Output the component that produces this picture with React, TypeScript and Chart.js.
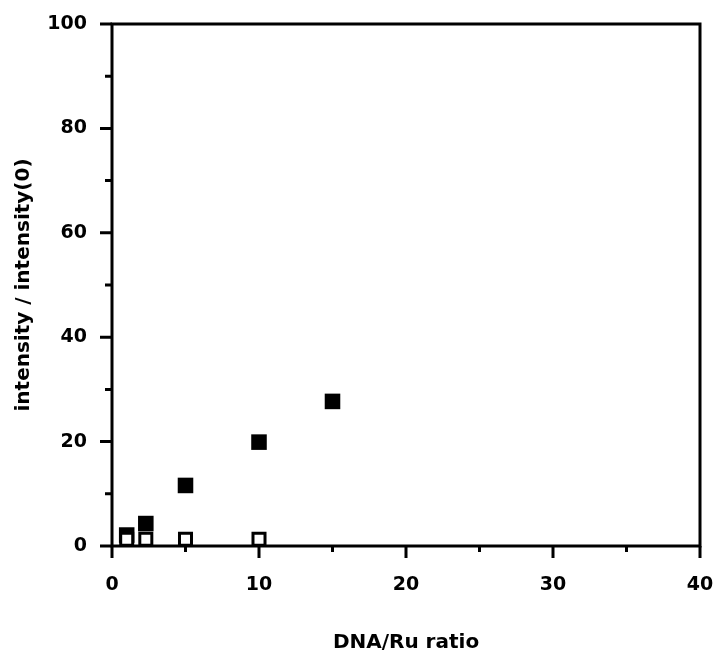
import React, { useEffect, useRef } from 'react';
import { Chart, registerables } from 'chart.js';

Chart.register(...registerables);

// Data
const ratioFilled = [1, 2.3, 5, 10, 15];
const intensityFilled = [2.1, 4.3, 11.6, 19.9, 27.7];
const ratioOpen = [1, 2.3, 5, 10];
const intensityOpen = [1.3, 1.3, 1.3, 1.3];

// Axis ticks
const xMajorTicks = [0, 10, 20, 30, 40];
const xMinorTicks = [5, 15, 25, 35];
const yMajorTicks = [0, 20, 40, 60, 80, 100];
const yMinorTicks = [10, 30, 50, 70, 90];

const xTitle = 'DNA/Ru ratio';
const yTitle = 'intensity / intensity(0)';

const W = 718;
const H = 661;

const framePlugin = {
  id: 'frame',
  beforeDatasetsDraw(chart: any) {
    const { ctx, chartArea: a, scales } = chart;
    const x = scales.x;
    const y = scales.y;
    ctx.save();
    ctx.strokeStyle = '#000';
    ctx.lineWidth = 3;
    ctx.lineCap = 'butt';
    ctx.strokeRect(a.left, a.top, a.right - a.left, a.bottom - a.top);
    ctx.beginPath();
    xMajorTicks.forEach((v) => {
      const p = x.getPixelForValue(v);
      ctx.moveTo(p, a.bottom);
      ctx.lineTo(p, a.bottom + 12);
    });
    xMinorTicks.forEach((v) => {
      const p = x.getPixelForValue(v);
      ctx.moveTo(p, a.bottom);
      ctx.lineTo(p, a.bottom + 6);
    });
    yMajorTicks.forEach((v) => {
      const p = y.getPixelForValue(v);
      ctx.moveTo(a.left, p);
      ctx.lineTo(a.left - 12, p);
    });
    yMinorTicks.forEach((v) => {
      const p = y.getPixelForValue(v);
      ctx.moveTo(a.left, p);
      ctx.lineTo(a.left - 7, p);
    });
    ctx.stroke();
    ctx.restore();
  },
};

export default function App() {
  const ref = useRef<HTMLCanvasElement | null>(null);

  useEffect(() => {
    if (!ref.current) return;
    const tickFont = { family: '"DejaVu Sans", sans-serif', size: 19, weight: 'bold' as const };
    const titleFont = { family: '"DejaVu Sans", sans-serif', size: 20, weight: 'bold' as const };
    const chart = new Chart(ref.current, {
      type: 'scatter',
      data: {
        datasets: [
          {
            label: 'open',
            data: ratioOpen.map((r, i) => ({ x: r, y: intensityOpen[i] })),
            pointStyle: 'rect',
            pointRadius: 8.5,
            pointBackgroundColor: '#fff',
            pointBorderColor: '#000',
            pointBorderWidth: 3,
            showLine: false,
            clip: false as any,
          },
          {
            label: 'filled',
            data: ratioFilled.map((r, i) => ({ x: r, y: intensityFilled[i] })),
            pointStyle: 'rect',
            pointRadius: 11,
            pointBackgroundColor: '#000',
            pointBorderColor: '#000',
            pointBorderWidth: 0,
            showLine: false,
            clip: false as any,
          },
        ],
      },
      options: {
        animation: false,
        responsive: false,
        maintainAspectRatio: false,
        layout: { padding: { left: 0, top: 24, right: 18, bottom: 0 } },
        plugins: {
          legend: { display: false },
          tooltip: { enabled: false },
        },
        scales: {
          x: {
            type: 'linear',
            min: 0,
            max: 40,
            afterBuildTicks: (s: any) => {
              s.ticks = xMajorTicks.map((v) => ({ value: v }));
            },
            afterFit: (s: any) => {
              s.height = 115;
            },
            grid: { display: false, drawTicks: true, tickLength: 28 },
            border: { display: false },
            ticks: {
              font: tickFont,
              color: '#000',
              padding: 0,
              maxRotation: 0,
              autoSkip: false,
            },
            title: {
              display: true,
              text: xTitle,
              font: titleFont,
              color: '#000',
              padding: { top: 0, bottom: 6 },
            },
          },
          y: {
            type: 'linear',
            min: 0,
            max: 100,
            afterBuildTicks: (s: any) => {
              s.ticks = yMajorTicks.map((v) => ({ value: v }));
            },
            afterFit: (s: any) => {
              s.width = 112;
            },
            grid: { display: false, drawTicks: true, tickLength: 25 },
            border: { display: false },
            ticks: {
              font: tickFont,
              color: '#000',
              padding: 0,
              autoSkip: false,
            },
            title: {
              display: true,
              text: yTitle,
              font: titleFont,
              color: '#000',
              padding: { top: 12, bottom: 0 },
            },
          },
        },
      },
      plugins: [framePlugin],
    });
    return () => chart.destroy();
  }, []);

  return (
    <div style={{ position: 'absolute', left: 0, top: 0, width: W, height: H, background: '#fff' }}>
      <canvas ref={ref} width={W} height={H} style={{ display: 'block', width: W, height: H }} />
    </div>
  );
}
